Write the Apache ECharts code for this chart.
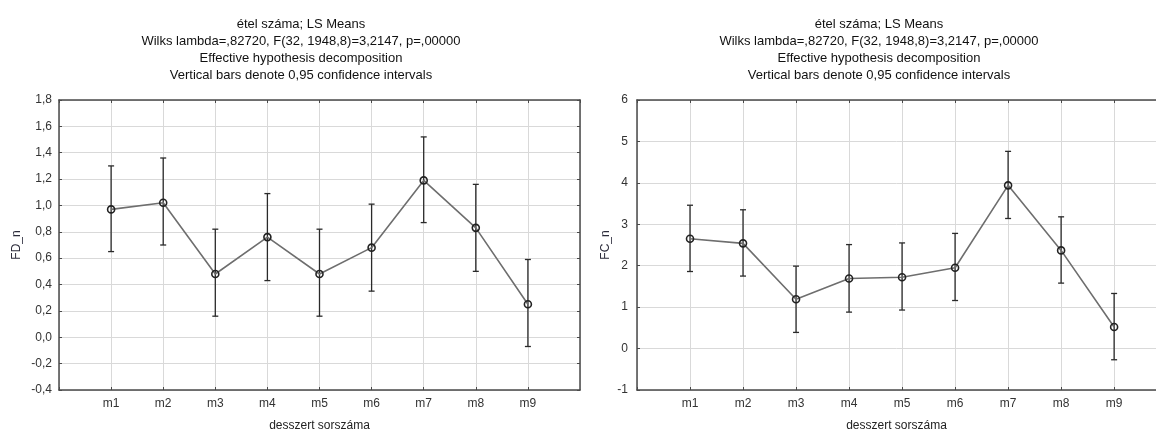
<!DOCTYPE html>
<html>
<head>
<meta charset="utf-8">
<script src="https://cdn.jsdelivr.net/npm/echarts@6/dist/echarts.min.js"></script>
<style>
  html, body { margin: 0; padding: 0; background: #fff; }
  #main { width: 1156px; height: 437px; }
</style>
</head>
<body>
<div id="main"></div>
<script>
var categories = ['m1', 'm2', 'm3', 'm4', 'm5', 'm6', 'm7', 'm8', 'm9'];

// FD_n  (left panel)
var fdMean = [0.97, 1.02, 0.48, 0.76, 0.48, 0.68, 1.19, 0.83, 0.25];
var fdLow  = [0.65, 0.70, 0.16, 0.43, 0.16, 0.35, 0.87, 0.50, -0.07];
var fdHigh = [1.30, 1.36, 0.82, 1.09, 0.82, 1.01, 1.52, 1.16, 0.59];

// FC_n  (right panel)
var fcMean = [2.65, 2.54, 1.19, 1.69, 1.72, 1.95, 3.94, 2.37, 0.52];
var fcLow  = [1.86, 1.75, 0.39, 0.88, 0.93, 1.16, 3.14, 1.58, -0.27];
var fcHigh = [3.46, 3.35, 1.99, 2.51, 2.55, 2.78, 4.76, 3.18, 1.33];

var titleLines = [
  'étel száma; LS Means',
  'Wilks lambda=,82720, F(32, 1948,8)=3,2147, p=,00000',
  'Effective hypothesis decomposition',
  'Vertical bars denote 0,95 confidence intervals'
];
var xName = 'desszert sorszáma';

var FONT = 'Liberation Sans, Arial, sans-serif';
var frameColor = '#4a4a4a';
var gridColor = '#d9d9d9';

var myChart = echarts.init(document.getElementById('main'));

function meanData(arr) {
  return arr.map(function (v, i) { return [i + 1, v]; });
}
function barData(lo, hi) {
  return lo.map(function (v, i) { return [i + 1, v, hi[i]]; });
}

// error bar: vertical line with small caps
function renderBar(params, api) {
  var x = api.value(0);
  var top = api.coord([x, api.value(2)]);
  var bot = api.coord([x, api.value(1)]);
  var w = 3;
  var st = { stroke: '#2a2a2a', lineWidth: 1.3 };
  return {
    type: 'group',
    children: [
      { type: 'line', shape: { x1: top[0], y1: top[1], x2: bot[0], y2: bot[1] }, style: st },
      { type: 'line', shape: { x1: top[0] - w, y1: top[1], x2: top[0] + w, y2: top[1] }, style: st },
      { type: 'line', shape: { x1: bot[0] - w, y1: bot[1], x2: bot[0] + w, y2: bot[1] }, style: st }
    ]
  };
}

function xAxes(gridIndex, max) {
  var lbl = function (v) { return (v >= 1 && v <= 9 && v === Math.round(v)) ? categories[v - 1] : ''; };
  return [
    {
      type: 'value', gridIndex: gridIndex, min: 0, max: max, interval: 1, position: 'bottom',
      name: xName, nameLocation: 'middle', nameGap: 30,
      nameTextStyle: { color: '#222', fontFamily: FONT, fontSize: 12 },
      axisLine: { show: true, onZero: false, lineStyle: { color: frameColor, width: 1.5 } },
      axisTick: { show: true, inside: true, length: 3, lineStyle: { color: frameColor } },
      splitLine: { show: true, lineStyle: { color: gridColor, width: 1 } },
      axisLabel: { formatter: lbl, color: '#333', fontFamily: FONT, fontSize: 12, margin: 8, showMaxLabel: false }
    },
    {
      type: 'value', gridIndex: gridIndex, min: 0, max: max, interval: 1, position: 'top',
      axisLine: { show: true, onZero: false, lineStyle: { color: frameColor, width: 1.5 } },
      axisTick: { show: true, inside: true, length: 3, lineStyle: { color: frameColor } },
      splitLine: { show: false },
      axisLabel: { show: false }
    }
  ];
}

function yAxes(gridIndex, min, max, interval, name, fmt, nameGap, labelMargin, showRight) {
  return [
    {
      type: 'value', gridIndex: gridIndex, min: min, max: max, interval: interval, position: 'left',
      name: name, nameLocation: 'middle', nameGap: nameGap, nameRotate: 90,
      nameTextStyle: { color: '#2b2b3a', fontFamily: FONT, fontSize: 12 },
      axisLine: { show: true, onZero: false, lineStyle: { color: frameColor, width: 1.5 } },
      axisTick: { show: true, inside: true, length: 3, lineStyle: { color: frameColor } },
      splitLine: { show: true, lineStyle: { color: gridColor, width: 1 } },
      axisLabel: { formatter: fmt, color: '#333', fontFamily: FONT, fontSize: 12, margin: labelMargin }
    },
    {
      type: 'value', gridIndex: gridIndex, min: min, max: max, interval: interval, position: 'right',
      axisLine: { show: showRight, onZero: false, lineStyle: { color: frameColor, width: 1.5 } },
      axisTick: { show: showRight, inside: true, length: 3, lineStyle: { color: frameColor } },
      splitLine: { show: false },
      axisLabel: { show: false }
    }
  ];
}

var commaFmt = function (v) { return v.toFixed(1).replace('.', ','); };
var intFmt = function (v) { return String(Math.round(v)); };

var titleStyle = { color: '#111', fontFamily: FONT, fontSize: 13, fontWeight: 'normal', lineHeight: 17 };

var option = {
  backgroundColor: '#fff',
  animation: false,
  title: [
    { text: titleLines.join('\n'), left: 296, top: 11, textAlign: 'center', textStyle: titleStyle },
    { text: titleLines.join('\n'), left: 874, top: 11, textAlign: 'center', textStyle: titleStyle }
  ],
  grid: [
    { left: 59, top: 100, width: 521, height: 297 },
    { left: 637, top: 100, width: 519, height: 297 }
  ],
  // right panel is cut off by the picture edge: its x range stops short of 10
  xAxis: xAxes(0, 10).concat(xAxes(1, 9.79)),
  yAxis: yAxes(0, -0.4, 1.8, 0.2, 'FD_n', commaFmt, 36, 7, true)
    .concat(yAxes(1, -1, 6, 1, 'FC_n', intFmt, 25, 9, false)),
  series: [
    {
      type: 'line', xAxisIndex: 0, yAxisIndex: 0, data: meanData(fdMean),
      lineStyle: { color: '#6e6e6e', width: 1.6 },
      symbol: 'circle', symbolSize: 7,
      itemStyle: { color: 'rgba(255,255,255,0)', borderColor: '#222', borderWidth: 1.6 },
      z: 3
    },
    {
      type: 'custom', xAxisIndex: 0, yAxisIndex: 0, data: barData(fdLow, fdHigh),
      renderItem: renderBar, z: 2
    },
    {
      type: 'line', xAxisIndex: 2, yAxisIndex: 2, data: meanData(fcMean),
      lineStyle: { color: '#6e6e6e', width: 1.6 },
      symbol: 'circle', symbolSize: 7,
      itemStyle: { color: 'rgba(255,255,255,0)', borderColor: '#222', borderWidth: 1.6 },
      z: 3
    },
    {
      type: 'custom', xAxisIndex: 2, yAxisIndex: 2, data: barData(fcLow, fcHigh),
      renderItem: renderBar, z: 2
    }
  ]
};
myChart.setOption(option);
</script>
</body>
</html>
